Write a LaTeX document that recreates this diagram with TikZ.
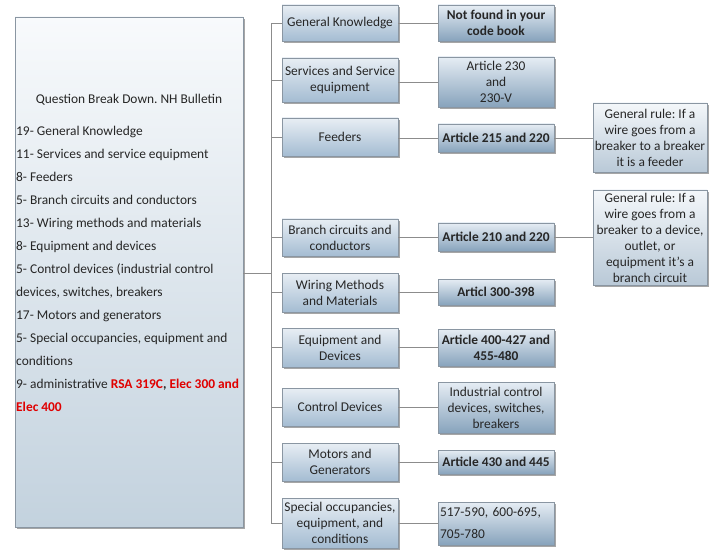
\documentclass[tikz,border=0pt]{standalone}
\usepackage{fontspec}
\setmainfont{Carlito}
\usetikzlibrary{shadows}
\frenchspacing
\definecolor{txt}{HTML}{262626}
\definecolor{midtop}{HTML}{E8EEF4}
\definecolor{midbot}{HTML}{A4BCD2}
\definecolor{rtop}{HTML}{E6EDF4}
\definecolor{rbot}{HTML}{87A3BC}
\definecolor{maintop}{HTML}{F8FAFC}
\definecolor{mainbot}{HTML}{C3D2DE}
\definecolor{ruletop}{HTML}{F4F7FA}
\definecolor{rulebot}{HTML}{B9C9D7}
\definecolor{edge}{HTML}{8A96A2}
\definecolor{conn}{HTML}{8C8C8C}
\definecolor{redtxt}{HTML}{E00000}
\begin{document}
\begin{tikzpicture}[x=1pt,y=-1pt,
  basebox/.style={draw=edge, line width=0.8pt, align=center, inner sep=1pt, text=txt,
    font=\fontsize{13.4}{16}\selectfont,
    drop shadow={shadow xshift=1.6pt, shadow yshift=-1.6pt, fill=black, opacity=0.35}},
  midbox/.style={basebox, top color=midtop, bottom color=midbot, minimum width=116},
  rbox/.style={basebox, top color=rtop, bottom color=rbot, minimum width=116},
  rulebox/.style={basebox, top color=ruletop, bottom color=rulebot, minimum width=114},
  mainbox/.style={draw=edge, line width=0.8pt, top color=maintop, bottom color=mainbot,
    minimum width=228, minimum height=510,
    drop shadow={shadow xshift=1.6pt, shadow yshift=-1.6pt, fill=black, opacity=0.35}},
  plain/.style={inner sep=0pt, text=txt, font=\fontsize{13.4}{16}\selectfont},
  conn/.style={draw=conn, line width=0.9pt}]
\useasboundingbox (0,0) rectangle (723,556);
\fill[white] (0,0) rectangle (723,556);

% main box
\node[mainbox] (main) at (129,272) {};
\node[plain] (title) at (129,100) {Question Break Down. NH Bulletin};
\node[plain, anchor=north west, align=left, font=\fontsize{13.4}{23}\selectfont] (list) at (16,126)
 {19- General Knowledge\\
  11- Services and service equipment\\
  8- Feeders\\
  5- Branch circuits and conductors\\
  13- Wiring methods and materials\\
  8- Equipment and devices\\
  5- Control devices (industrial control\\
  devices, switches, breakers\\
  17- Motors and generators\\
  5- Special occupancies, equipment and\\
  conditions\\
  9- administrative {\color{redtxt}\bfseries RSA 319C}{\bfseries ,} {\color{redtxt}\bfseries Elec 300 and}\\
  {\color{redtxt}\bfseries Elec 400}};

% middle column
\node[midbox, minimum height=36] (gk) at (340,23) {General Knowledge};
\node[midbox, minimum height=44] (svc) at (340,80) {Services and Service\\equipment};
\node[midbox, minimum height=38] (fee) at (340,137) {Feeders};
\node[midbox, minimum height=37] (br) at (340,237.5) {Branch circuits and\\conductors};
\node[midbox, minimum height=39] (wir) at (340,292.5) {Wiring Methods\\and Materials};
\node[midbox, minimum height=39] (eq) at (340,347.5) {Equipment and\\Devices};
\node[midbox, minimum height=38] (ctl) at (340,407) {Control Devices};
\node[midbox, minimum height=38] (mot) at (340,462) {Motors and\\Generators};
\node[midbox, minimum height=50] (spe) at (340,523) {Special occupancies,\\equipment, and\\conditions};

% right column
\node[rbox, minimum height=36] (nf) at (496,23) {\bfseries Not found in your\\\bfseries code book};
\node[rbox, minimum height=50] (a230) at (496,82) {Article 230\\and\\230-V};
\node[rbox, minimum height=28] (a215) at (496,138) {\bfseries Article 215 and 220};
\node[rbox, minimum height=28] (a210) at (496,237) {\bfseries Article 210 and 220};
\node[rbox, minimum height=26] (a300) at (496,292) {\bfseries Articl 300-398};
\node[rbox, minimum height=37] (a400) at (496,347.5) {\bfseries Article 400-427 and\\\bfseries 455-480};
\node[rbox, minimum height=51] (ind) at (496,407.5) {Industrial control\\devices, switches,\\breakers};
\node[rbox, minimum height=24] (a430) at (496,462) {\bfseries Article 430 and 445};
\node[rbox, minimum height=43, text width=112, align=left, inner sep=2pt,
      font=\fontsize{13.4}{22}\selectfont] (a517) at (496,523.5) {517-590, 600-695,\\705-780};

% rule boxes
\node[rulebox, minimum height=69] (r1) at (650,137.5) {General rule: If a\\wire goes from a\\breaker to a breaker\\it is a feeder};
\node[rulebox, minimum height=95] (r2) at (650,237.5) {General rule: If a\\wire goes from a\\breaker to a device,\\outlet, or\\equipment it's a\\branch circuit};

% connectors
\coordinate (trunk) at (271,273);
\draw[conn] (main.east |- trunk) -- (trunk);
\foreach \m in {gk,svc,fee,br,wir,eq,ctl,mot,spe}
  \draw[conn] (\m.west) -| (trunk);
\foreach \m/\r in {gk/nf,svc/a230,fee/a215,br/a210,wir/a300,eq/a400,ctl/ind,mot/a430,spe/a517}
  \draw[conn] (\m.east |- \r.west) -- (\r.west);
\draw[conn] (a215.east) -- (a215.east -| r1.west);
\draw[conn] (a210.east) -- (a210.east -| r2.west);
\end{tikzpicture}
\end{document}
